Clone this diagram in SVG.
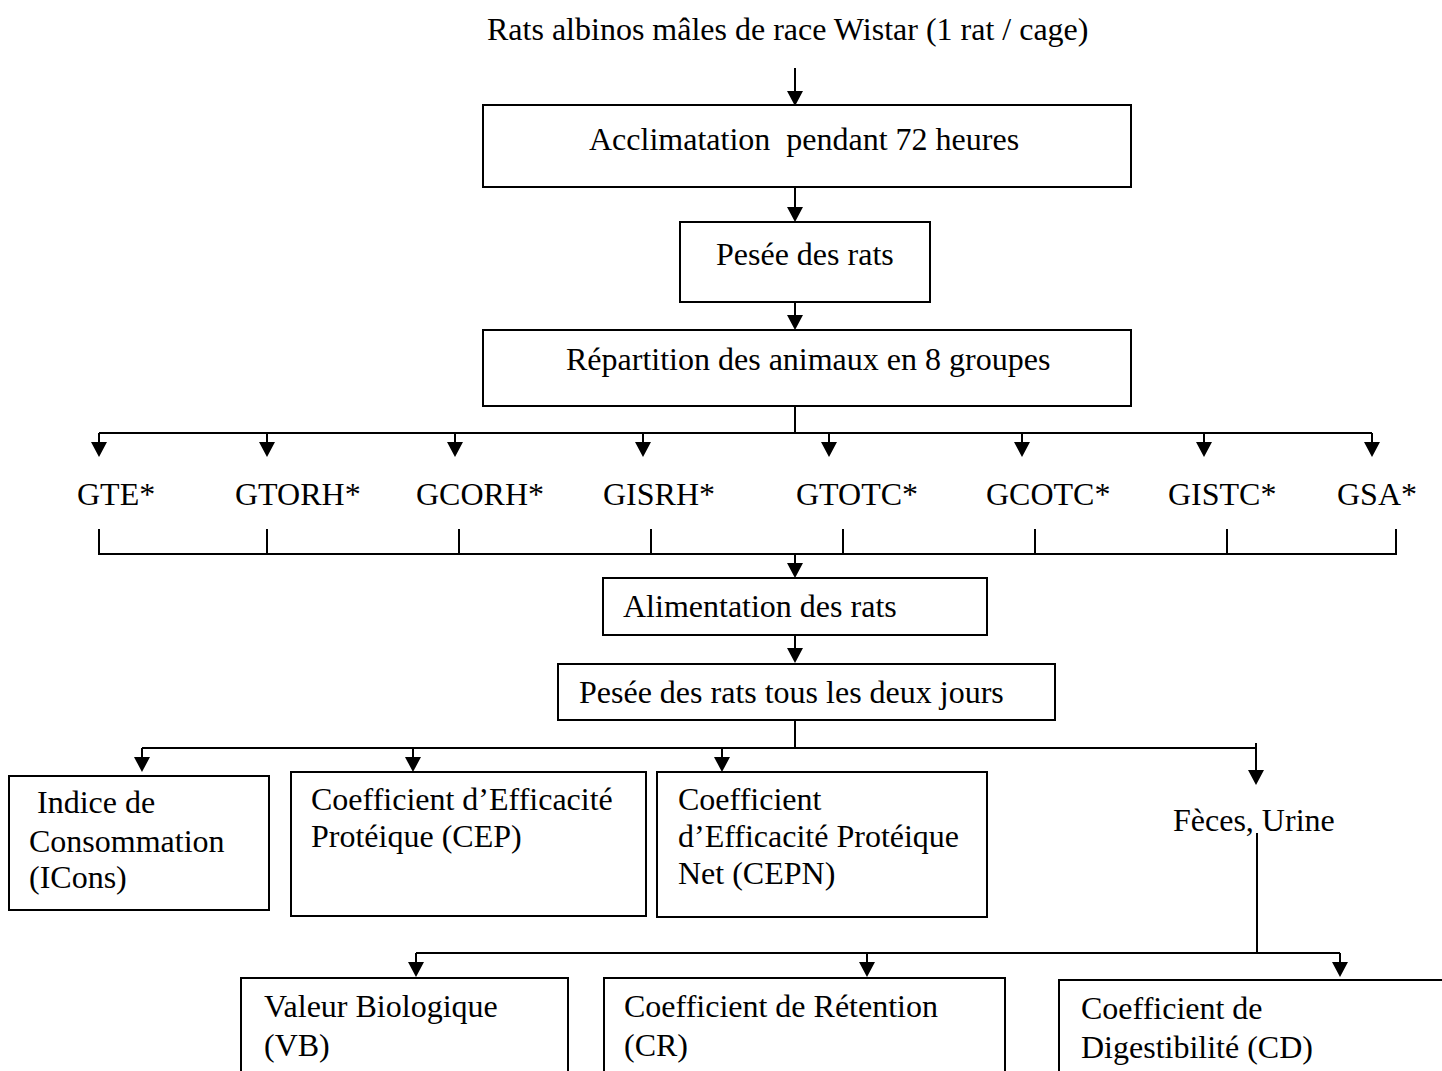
<svg xmlns="http://www.w3.org/2000/svg" width="1442" height="1071" viewBox="0 0 1442 1071">
<style>
text{font-family:"Liberation Serif","Times New Roman",serif;font-size:32px;fill:#000}
.box{fill:#fff;stroke:#000;stroke-width:2}
.ln{fill:none;stroke:#000;stroke-width:2}
polygon{fill:#000}
</style>
<defs>
<polygon id="ah" points="-8,-15 8,-15 0,0"/>
</defs>
<rect width="1442" height="1071" fill="#fff"/>
<g id="connectors">
<path class="ln" d="M795 68V92"/><use href="#ah" x="795" y="106"/>
<path class="ln" d="M795 187V208"/><use href="#ah" x="795" y="222"/>
<path class="ln" d="M795 302V316"/><use href="#ah" x="795" y="330"/>
<path class="ln" d="M795 406V433M99 433H1372"/>
<path class="ln" d="M99 433V444M267 433V444M455 433V444M643 433V444M829 433V444M1022 433V444M1204 433V444M1372 433V444"/>
<use href="#ah" x="99" y="457"/><use href="#ah" x="267" y="457"/><use href="#ah" x="455" y="457"/><use href="#ah" x="643" y="457"/><use href="#ah" x="829" y="457"/><use href="#ah" x="1022" y="457"/><use href="#ah" x="1204" y="457"/><use href="#ah" x="1372" y="457"/>
<path class="ln" d="M99 529V554H1396V529M267 529V554M459 529V554M651 529V554M843 529V554M1035 529V554M1227 529V554"/>
<path class="ln" d="M795 554V565"/><use href="#ah" x="795" y="578"/>
<path class="ln" d="M795 635V650"/><use href="#ah" x="795" y="663"/>
<path class="ln" d="M795 720V748M142 748H1256"/>
<path class="ln" d="M142 748V759M413 748V759M722 748V759M1256 743V771"/>
<use href="#ah" x="142" y="772"/><use href="#ah" x="413" y="772"/><use href="#ah" x="722" y="772"/><use href="#ah" x="1256" y="785"/>
<path class="ln" d="M1257 833V953M416 953H1340M416 953V964M867 953V964M1340 953V964"/>
<use href="#ah" x="416" y="977"/><use href="#ah" x="867" y="977"/><use href="#ah" x="1340" y="977"/>
</g>
<g id="n-title"><text x="487" y="40">Rats albinos mâles de race Wistar (1 rat / cage)</text></g>
<g id="n-acclim"><rect class="box" x="483" y="105" width="648" height="82"/><text x="589" y="150" xml:space="preserve">Acclimatation  pendant 72 heures</text></g>
<g id="n-pesee1"><rect class="box" x="680" y="222" width="250" height="80"/><text x="716" y="265">Pesée des rats</text></g>
<g id="n-repart"><rect class="box" x="483" y="330" width="648" height="76"/><text x="566" y="370">Répartition des animaux en 8 groupes</text></g>
<g id="n-groups">
<text x="77" y="505">GTE*</text>
<text x="235" y="505">GTORH*</text>
<text x="416" y="505">GCORH*</text>
<text x="603" y="505">GISRH*</text>
<text x="796" y="505">GTOTC*</text>
<text x="986" y="505">GCOTC*</text>
<text x="1168" y="505">GISTC*</text>
<text x="1337" y="505">GSA*</text>
</g>
<g id="n-alim"><rect class="box" x="603" y="578" width="384" height="57"/><text x="623" y="617">Alimentation des rats</text></g>
<g id="n-pesee2"><rect class="box" x="558" y="664" width="497" height="56"/><text x="579" y="703">Pesée des rats tous les deux jours</text></g>
<g id="n-icons"><rect class="box" x="9" y="776" width="260" height="134"/><text x="37" y="813">Indice de</text><text x="29" y="852">Consommation</text><text x="29" y="888">(ICons)</text></g>
<g id="n-cep"><rect class="box" x="291" y="772" width="355" height="144"/><text x="311" y="810">Coefficient d’Efficacité</text><text x="311" y="847">Protéique (CEP)</text></g>
<g id="n-cepn"><rect class="box" x="657" y="772" width="330" height="145"/><text x="678" y="810">Coefficient</text><text x="678" y="847">d’Efficacité Protéique</text><text x="678" y="884">Net (CEPN)</text></g>
<g id="n-feces"><text x="1173" y="831">Fèces, Urine</text></g>
<g id="n-vb"><rect class="box" x="241" y="978" width="327" height="110"/><text x="264" y="1017">Valeur Biologique</text><text x="264" y="1056">(VB)</text></g>
<g id="n-cr"><rect class="box" x="604" y="978" width="401" height="110"/><text x="624" y="1017">Coefficient de Rétention</text><text x="624" y="1056">(CR)</text></g>
<g id="n-cd"><rect class="box" x="1059" y="980" width="400" height="110"/><text x="1081" y="1019">Coefficient de</text><text x="1081" y="1058">Digestibilité (CD)</text></g>
</svg>
